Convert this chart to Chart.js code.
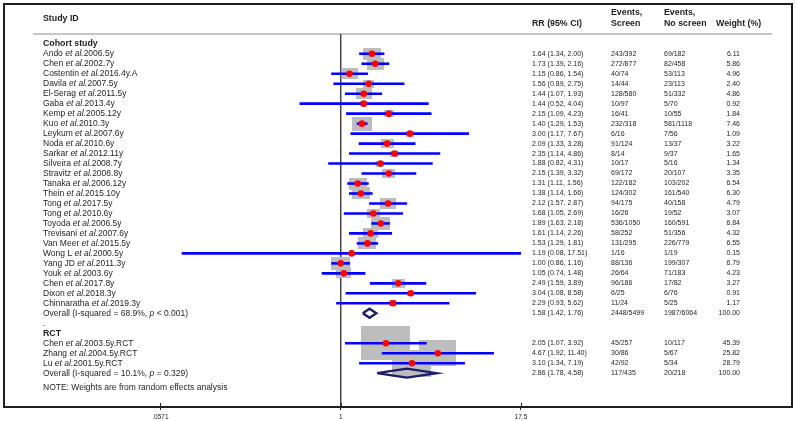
<!DOCTYPE html>
<html><head><meta charset="utf-8">
<script src="https://cdn.jsdelivr.net/npm/chart.js@4.4.1/dist/chart.umd.min.js"></script>
<style>html,body{margin:0;padding:0;background:#fff}canvas{display:block}</style>
</head><body>
<canvas id="c" width="796" height="421"></canvas>
<script>
// ---------- DATA ----------
const cohortAuthors = ['Ando','Chen','Costentin','Davila','El-Serag','Gaba','Kemp','Kuo','Leykum','Noda','Sarkar','Silveira','Stravitz','Tanaka','Thein','Tong','Tong','Toyoda','Trevisani','Van Meer','Wong L','Yang JD','Youk','Chen','Dixon','Chinnaratha'];
const cohortSuffix = ['2006.5y','2002.7y','2016.4y.A','2007.5y','2011.5y','2013.4y','2005.12y','2010.3y','2007.6y','2010.6y','2012.11y','2008.7y','2008.8y','2006.12y','2015.10y','2017.5y','2010.6y','2006.5y','2007.6y','2015.5y','2000.5y','2011.3y','2003.6y','2017.8y','2018.3y','2019.3y'];
const cohortRR    = [1.64,1.73,1.15,1.56,1.44,1.44,2.15,1.40,3.00,2.09,2.35,1.88,2.15,1.31,1.38,2.12,1.68,1.89,1.61,1.53,1.19,1.00,1.05,2.49,3.04,2.29];
const cohortLower = [1.34,1.39,0.86,0.89,1.07,0.52,1.09,1.29,1.17,1.33,1.14,0.82,1.39,1.11,1.14,1.57,1.05,1.63,1.14,1.29,0.08,0.86,0.74,1.59,1.08,0.93];
const cohortUpper = [2.00,2.16,1.54,2.75,1.93,4.04,4.23,1.53,7.67,3.28,4.86,4.31,3.32,1.56,1.66,2.87,2.69,2.18,2.26,1.81,17.51,1.16,1.48,3.89,8.58,5.62];
const cohortWeight = [6.11,5.86,4.96,2.40,4.86,0.92,1.84,7.46,1.09,3.22,1.65,1.34,3.35,6.54,6.30,4.79,3.07,6.84,4.32,6.55,0.15,6.79,4.23,3.27,0.91,1.17];
const cohortEvScreen = ['243/392','272/877','40/74','14/44','128/580','10/97','16/41','232/318','6/16','91/124','8/14','10/17','69/172','122/182','124/302','94/175','16/26','536/1050','58/252','131/295','1/16','88/136','26/64','96/186','6/25','11/24'];
const cohortEvNoScreen = ['69/182','82/458','53/113','23/113','51/332','5/70','10/55','581/1118','7/56','13/37','9/37','5/16','20/107','103/202','161/540','40/158','19/52','160/591','51/356','226/779','1/19','199/307','71/183','17/82','6/76','5/25'];
const cohortOverall = [1.58,1.42,1.76];
const cohortOverallText = ['1.58 (1.42, 1.76)','2448/5499','1987/6064','100.00'];
const cohortHet = ['Overall (I-squared = 68.9%, ','p',' < 0.001)'];

const rctAuthors = ['Chen','Zhang','Lu'];
const rctSuffix = ['2003.5y.RCT','2004.5y.RCT','2001.5y.RCT'];
const rctRR    = [2.05,4.67,3.10];
const rctLower = [1.07,1.92,1.34];
const rctUpper = [3.92,11.40,7.19];
const rctWeight = [45.39,25.82,28.79];
const rctEvScreen = ['45/257','30/86','42/92'];
const rctEvNoScreen = ['10/117','5/67','5/34'];
const rctOverall = [2.86,1.78,4.58];
const rctOverallText = ['2.86 (1.78, 4.58)','117/435','20/218','100.00'];
const rctHet = ['Overall (I-squared = 10.1%, ','p',' = 0.329)'];

const xTicks = [0.0571, 1, 17.5];
const xTickLabels = ['.0571','1','17.5'];
const NULL_VALUE = 1;

// ---------- ROW LAYOUT ----------
const cohortRows = cohortRR.map((_, i) => i);
const cohortOverallRow = cohortRR.length;          // 26
const rctHeaderRow = cohortOverallRow + 2;         // 28
const rctRows = rctRR.map((_, i) => rctHeaderRow + 1 + i);
const rctOverallRow = rctHeaderRow + 1 + rctRR.length;

const allRR = cohortRR.concat(rctRR);
const allLo = cohortLower.concat(rctLower);
const allHi = cohortUpper.concat(rctUpper);
const allW = cohortWeight.concat(rctWeight);
const allRows = cohortRows.concat(rctRows);

function fmtCI(r, l, h) { return r.toFixed(2) + ' (' + l.toFixed(2) + ', ' + h.toFixed(2) + ')'; }

// box images (area proportional to weight)
const BOX_COLOR = '#bdbdbd';
const boxImgs = allW.map(w => {
  const bw = Math.max(1, Math.round(7.2 * Math.sqrt(w)));
  const bh = Math.max(1, Math.round(bw / 1.45));
  const cv = document.createElement('canvas');
  cv.width = bw; cv.height = bh;
  const g = cv.getContext('2d');
  g.fillStyle = BOX_COLOR; g.fillRect(0, 0, bw, bh);
  return cv;
});

const datasets = [];
datasets.push({
  label: 'boxes', order: 5, showLine: false,
  data: allRR.map((v, i) => ({x: v, y: allRows[i]})),
  pointStyle: boxImgs, pointRadius: 1, borderWidth: 0
});
allRR.forEach((v, i) => {
  datasets.push({
    label: 'ci' + i, order: 3, showLine: true, pointRadius: 0,
    borderColor: '#0000ff', borderWidth: 2.6,
    data: [{x: allLo[i], y: allRows[i]}, {x: allHi[i], y: allRows[i]}]
  });
});
datasets.push({
  label: 'points', order: 1, showLine: false,
  data: allRR.map((v, i) => ({x: v, y: allRows[i]})),
  pointStyle: 'circle', pointRadius: 3.3, backgroundColor: '#ff0000', borderWidth: 0
});
[[cohortOverall, cohortOverallRow], [rctOverall, rctOverallRow]].forEach(([o, r]) => {
  const h = 0.45;
  datasets.push({
    label: 'diamond', order: 0, showLine: true, pointRadius: 0,
    borderColor: '#1c1c6a', borderWidth: 2.4, fill: false, borderJoinStyle: 'miter',
    data: [{x: o[1], y: r}, {x: o[0], y: r - h}, {x: o[2], y: r}, {x: o[0], y: r + h}, {x: o[1], y: r}]
  });
});

// ---------- TEXT ----------
const TXT = '#1e1e1e';
const FONT = '"Liberation Sans", Arial, sans-serif';
function rich(ctx, parts, x, y, size) {
  let cx = x;
  parts.forEach(p => {
    ctx.font = (p.i ? 'italic ' : '') + size + 'px ' + FONT;
    ctx.fillText(p.t, cx, y);
    cx += ctx.measureText(p.t).width;
  });
}

const forestPlugin = {
  id: 'forest',
  beforeDatasetsDraw(chart) {
    const {ctx, chartArea: a, scales: {x}} = chart;
    ctx.save();
    ctx.strokeStyle = '#c6c6c6'; ctx.lineWidth = 2;
    ctx.beginPath(); ctx.moveTo(33, 34); ctx.lineTo(772, 34); ctx.stroke();
    const px = x.getPixelForValue(NULL_VALUE);
    ctx.strokeStyle = '#444'; ctx.lineWidth = 1.5;
    ctx.beginPath(); ctx.moveTo(px, 34); ctx.lineTo(px, a.bottom); ctx.stroke();
    ctx.strokeStyle = '#1e1e1e'; ctx.lineWidth = 2;
    ctx.strokeRect(a.left, a.top, a.right - a.left, a.bottom - a.top);
    // upper half of the tick marks (they cross the axis)
    ctx.strokeStyle = '#222'; ctx.lineWidth = 1;
    xTicks.forEach(v => {
      const tx = Math.round(x.getPixelForValue(v)) + 0.5;
      ctx.beginPath(); ctx.moveTo(tx, a.bottom - 4); ctx.lineTo(tx, a.bottom); ctx.stroke();
    });
    ctx.restore();
  },
  afterDraw(chart) {
    const {ctx, scales: {y}} = chart;
    ctx.save();
    ctx.fillStyle = TXT;
    ctx.textBaseline = 'middle';
    const LX = 43, C1 = 532, C2 = 611, C3 = 664, C4R = 740;
    // headers
    ctx.font = 'bold 8.8px ' + FONT;
    ctx.textAlign = 'left';
    ctx.fillText('Study ID', LX, 19);
    ctx.fillText('RR (95% CI)', C1, 24);
    ctx.fillText('Events,', C2, 13); ctx.fillText('Screen', C2, 24);
    ctx.fillText('Events,', C3, 13); ctx.fillText('No screen', C3, 24);
    ctx.fillText('Weight (%)', 716, 24);
    ctx.fillText('Cohort study', LX, y.getPixelForValue(-1));
    ctx.fillText('RCT', LX, y.getPixelForValue(rctHeaderRow));
    ctx.font = '8.5px ' + FONT;
    ctx.fillText('.', LX, y.getPixelForValue(cohortOverallRow + 1));

    const rowText = (author, suffix, r, l, h, w, es, en, row) => {
      const py = y.getPixelForValue(row);
      ctx.textAlign = 'left';
      rich(ctx, [{t: author + ' '}, {t: 'et al.', i: true}, {t: suffix}], LX, py, 8.5);
      ctx.font = '7px ' + FONT;
      ctx.fillText(fmtCI(r, l, h), C1, py);
      ctx.fillText(es, C2, py);
      ctx.fillText(en, C3, py);
      ctx.textAlign = 'right';
      ctx.fillText(w.toFixed(2), C4R, py);
    };
    cohortRR.forEach((v, i) => rowText(cohortAuthors[i], cohortSuffix[i], v, cohortLower[i], cohortUpper[i], cohortWeight[i], cohortEvScreen[i], cohortEvNoScreen[i], cohortRows[i]));
    rctRR.forEach((v, i) => rowText(rctAuthors[i], rctSuffix[i], v, rctLower[i], rctUpper[i], rctWeight[i], rctEvScreen[i], rctEvNoScreen[i], rctRows[i]));

    const overallText = (het, t, row) => {
      const py = y.getPixelForValue(row);
      ctx.textAlign = 'left';
      rich(ctx, [{t: het[0]}, {t: het[1], i: true}, {t: het[2]}], LX, py, 8.5);
      ctx.font = '7px ' + FONT;
      ctx.fillText(t[0], C1, py); ctx.fillText(t[1], C2, py); ctx.fillText(t[2], C3, py);
      ctx.textAlign = 'right'; ctx.fillText(t[3], C4R, py);
    };
    overallText(cohortHet, cohortOverallText, cohortOverallRow);
    overallText(rctHet, rctOverallText, rctOverallRow);

    ctx.textAlign = 'left';
    ctx.font = '8.5px ' + FONT;
    ctx.fillText('NOTE: Weights are from random effects analysis', LX, y.getPixelForValue(rctOverallRow + 1.5));
    ctx.restore();
  }
};

new Chart(document.getElementById('c'), {
  type: 'scatter',
  data: {datasets},
  options: {
    responsive: false, animation: false, devicePixelRatio: 1, events: [],
    layout: {padding: {left: 2, right: 3, top: 2, bottom: 0}},
    plugins: {legend: {display: false}, tooltip: {enabled: false}},
    scales: {
      x: {
        type: 'logarithmic', min: 0.00476, max: 1296,
        afterBuildTicks: s => { s.ticks = xTicks.map(v => ({value: v})); },
        afterFit: s => { s.height = 14; },
        ticks: {
          autoSkip: false, maxRotation: 0, padding: 3, color: '#222',
          font: {size: 6.5, family: FONT},
          callback: (v) => { const k = xTicks.indexOf(v); return k >= 0 ? xTickLabels[k] : ''; }
        },
        grid: {display: true, drawOnChartArea: false, drawTicks: true, tickLength: 3, color: '#222', lineWidth: 1},
        border: {display: true, color: '#1e1e1e', width: 2}
      },
      y: {type: 'linear', reverse: true, min: -4.985, max: 35.39, display: false}
    }
  },
  plugins: [forestPlugin]
});
</script>
</body></html>
